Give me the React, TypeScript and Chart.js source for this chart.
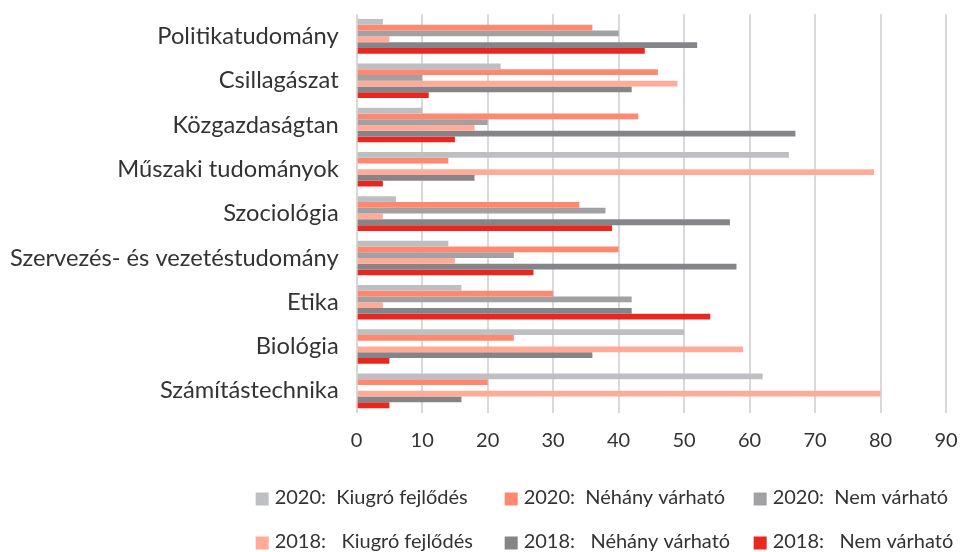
import React, { useEffect, useRef } from "react";
import { Chart, registerables } from "chart.js";

Chart.register(...registerables);

const categories = [
  "Politikatudomány",
  "Csillagászat",
  "Közgazdaságtan",
  "Műszaki tudományok",
  "Szociológia",
  "Szervezés- és vezetéstudomány",
  "Etika",
  "Biológia",
  "Számítástechnika",
];

const seriesLabels = [
  "2020:  Kiugró fejlődés",
  "2020:  Néhány várható",
  "2020:  Nem várható",
  "2018:   Kiugró fejlődés",
  "2018:   Néhány várható",
  "2018:   Nem várható",
];

const kiugro2020 = [4, 22, 10, 66, 6, 14, 16, 50, 62];
const nehany2020 = [36, 46, 43, 14, 34, 40, 30, 24, 20];
const nem2020 = [40, 10, 20, 0, 38, 24, 42, 0, 0];
const kiugro2018 = [5, 49, 18, 79, 4, 15, 4, 59, 80];
const nehany2018 = [52, 42, 67, 18, 57, 58, 42, 36, 16];
const nem2018 = [44, 11, 15, 4, 39, 27, 54, 5, 5];

const xMax = 90;
const xStep = 10;

const colors = ["#BEBFC2", "#FF886F", "#A1A1A4", "#FFAB98", "#858589", "#E8271F"];

const FONT = "Lato, 'Noto Sans', sans-serif";

const gridLegend = {
  id: "gridLegend",
  afterDraw(chart: any) {
    const ctx = chart.ctx;
    const { left, bottom } = chart.chartArea;
    ctx.save();
    ctx.font = `20px ${FONT}`;
    ctx.textBaseline = "middle";
    ctx.textAlign = "left";
    chart.data.datasets.forEach((ds: any, i: number) => {
      const col = i % 3;
      const row = Math.floor(i / 3);
      const x = left - 101 + col * 249;
      const y = bottom + 86 + row * 44;
      ctx.fillStyle = ds.backgroundColor;
      ctx.fillRect(x, y - 6.5, 13, 13);
      ctx.fillStyle = "#333333";
      ctx.fillText(ds.label, x + 19, y - 1);
    });
    ctx.restore();
  },
};

export default function App() {
  const ref = useRef<HTMLCanvasElement | null>(null);

  useEffect(() => {
    document.body.style.margin = "0";
    const values = [kiugro2020, nehany2020, nem2020, kiugro2018, nehany2018, nem2018];
    const chart = new Chart(ref.current as HTMLCanvasElement, {
      type: "bar",
      data: {
        labels: categories,
        datasets: values.map((v, i) => ({
          label: seriesLabels[i],
          data: v,
          backgroundColor: colors[i],
          borderWidth: 0,
          categoryPercentage: 0.78,
          barPercentage: 1,
        })),
      },
      options: {
        indexAxis: "y",
        animation: false,
        responsive: true,
        maintainAspectRatio: false,
        layout: { padding: { top: 12, right: 14, bottom: 99, left: 10 } },
        plugins: {
          legend: { display: false },
          tooltip: { enabled: false },
        },
        scales: {
          x: {
            min: 0,
            max: xMax,
            ticks: {
              stepSize: xStep,
              color: "#333333",
              font: { family: FONT, size: 20 },
              padding: 0,
            },
            grid: {
              color: "#D9D9D9",
              lineWidth: 2,
              drawTicks: true,
              tickLength: 16,
              tickColor: "rgba(0,0,0,0)",
            },
            border: { display: false },
          },
          y: {
            ticks: {
              color: "#333333",
              font: { family: FONT, size: 23.7 },
              padding: 0,
            },
            grid: {
              color: "rgba(0,0,0,0)",
              drawTicks: true,
              tickLength: 18,
              tickColor: "rgba(0,0,0,0)",
            },
            border: { display: false },
          },
        },
      },
      plugins: [gridLegend],
    });
    return () => chart.destroy();
  }, []);

  return (
    <div style={{ width: 960, height: 552, position: "relative" }}>
      <canvas ref={ref} />
    </div>
  );
}
